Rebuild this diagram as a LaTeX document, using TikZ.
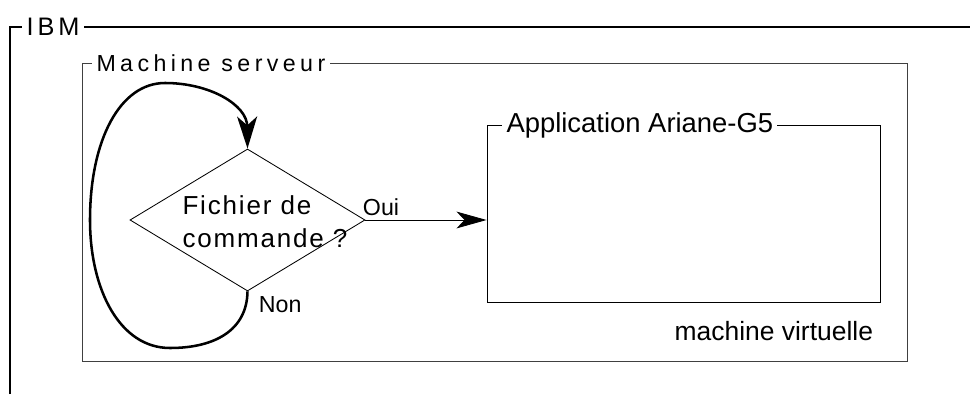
\documentclass[tikz,border=0pt]{standalone}
\usepackage{fontspec}
\setmainfont{Liberation Sans}
\newfontfamily\espace[LetterSpace=16]{Liberation Sans}
\newfontfamily\espaceserveur[LetterSpace=19]{Liberation Sans}
\newfontfamily\espacetest[LetterSpace=7]{Liberation Sans}
\usetikzlibrary{arrows.meta, shapes.geometric, fit}

\begin{document}
\begin{tikzpicture}[
    x=0.025cm, y=-0.025cm,
    >=Stealth,
    cadre/.style={draw, inner sep=0pt},
    titre/.style={fill=white, inner xsep=3pt, inner ysep=1pt, anchor=west},
    decision/.style={diamond, draw, line width=0.6pt, inner sep=0pt, minimum width=5.875cm, minimum height=3.55cm},
    etiq/.style={font=\fontsize{16.5}{19}\selectfont},
    boucle/.style={line width=1.8pt, -{Stealth[length=0.8cm, width=0.5cm, inset=0.22cm]}}
]
\useasboundingbox (0,0) rectangle (970,394);

% Cadre IBM (ouvert en bas et à droite)
\draw[line width=1.4pt] (10,394) -- (10,27) -- (970,27);
\node[titre, font=\espace\fontsize{18}{21}\selectfont] (ibm) at (22,27) {IBM};

% Machine serveur
\node[cadre, draw=black!75, line width=0.7pt, fit={(82,63) (907,361)}] (serveur) {};
\node[titre, font=\espaceserveur\fontsize{16.5}{19}\selectfont] (serveurlbl) at (92,63) {Machine serveur};

% Application dans la machine virtuelle
\node[cadre, line width=0.7pt, fit={(487,125) (880,302)}] (app) {};
\node[titre, font=\fontsize{19.5}{23}\selectfont] (applbl) at (502,125) {Application Ariane-G5};
\node[anchor=base east, font=\fontsize{18.8}{22}\selectfont] (vm) at (878,340) {machine virtuelle};

% Test du fichier de commande
\node[decision] (test) at (247.5,220) {};
\node[align=left, inner sep=0pt, font=\espacetest\fontsize{18.5}{23.5}\selectfont] (testlbl) at (265,222) {Fichier de\\commande ?};

% Oui : lancement de l'application
\draw[line width=0.6pt, -{Stealth[length=0.75cm, width=0.42cm, inset=0.2cm]}] (test.east) -- (test.east -| app.west);
\node[etiq, anchor=base west] (oui) at (358,215) {Oui};

% Non : on boucle sur le test
\draw[boucle] (test.south) .. controls (247,330) and (215,348) .. (170,348)
    .. controls (120,348) and (90,290) .. (90,220)
    .. controls (90,140) and (120,83) .. (165,83)
    .. controls (210,83) and (247,105) .. (test.north);
\node[etiq, anchor=base west] (non) at (254,312) {Non};

\end{tikzpicture}
\end{document}
